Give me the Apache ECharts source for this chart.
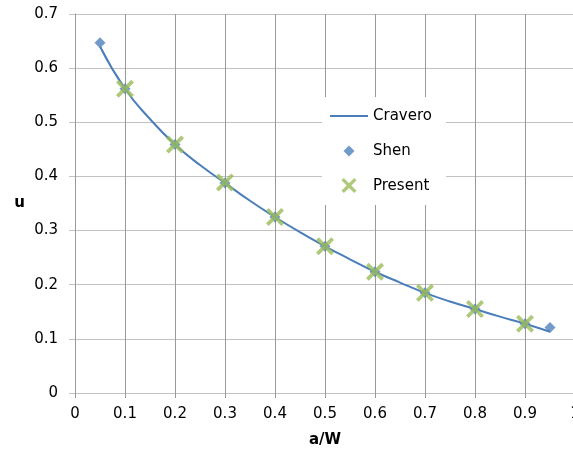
<!DOCTYPE html>
<html><head><meta charset="utf-8">
<script src="https://cdn.jsdelivr.net/npm/echarts@6/dist/echarts.min.js"></script>
<style>html,body{margin:0;padding:0;background:#fff}#c{width:573px;height:457px}</style>
</head><body><div id="c"></div>
<script>
// Data
const craveroX = [0.05,0.1,0.15,0.2,0.25,0.3,0.35,0.4,0.45,0.5,0.55,0.6,0.65,0.7,0.75,0.8,0.85,0.9,0.95];
const craveroU = [0.640,0.562,0.506,0.459,0.421,0.388,0.355,0.325,0.297,0.271,0.247,0.224,0.204,0.185,0.169,0.155,0.141,0.128,0.113];
const shenX = [0.05,0.1,0.2,0.3,0.4,0.5,0.6,0.7,0.8,0.9,0.95];
const shenU = [0.647,0.562,0.459,0.388,0.325,0.271,0.224,0.185,0.155,0.128,0.121];
const presentX = [0.1,0.2,0.3,0.4,0.5,0.6,0.7,0.8,0.9];
const presentU = [0.562,0.459,0.389,0.325,0.271,0.224,0.185,0.155,0.128];
const xTicks = [0,0.1,0.2,0.3,0.4,0.5,0.6,0.7,0.8,0.9,1];
const yTicks = [0,0.1,0.2,0.3,0.4,0.5,0.6,0.7];

const FONT = 'DejaVu Sans';
const lightGray = '#c2c2c2';
const darkGray = '#999999';
const xPath = 'path://M0,3 L3,0 L10,7 L17,0 L20,3 L13,10 L20,17 L17,20 L10,13 L3,20 L0,17 L7,10 Z';

const chart = echarts.init(document.getElementById('c'), null, {renderer:'canvas'});
chart.setOption({
  animation:false,
  backgroundColor:'#fff',
  grid:{left:75, top:14, right:-2, bottom:64, containLabel:false, outerBoundsMode:'none'},
  xAxis:{
    type:'value', min:xTicks[0], max:xTicks[xTicks.length-1], interval:0.1,
    name:'a/W', nameLocation:'middle', nameGap:40,
    nameTextStyle:{fontFamily:FONT, fontSize:15, fontWeight:'bold', color:'#000'},
    axisLine:{show:true, onZero:false, lineStyle:{color:lightGray, width:1}},
    axisTick:{show:true, inside:false, length:5, lineStyle:{color:darkGray}},
    splitLine:{show:true, lineStyle:{color:darkGray, width:1}},
    axisLabel:{fontFamily:FONT, fontSize:15, color:'#000', margin:14, showMaxLabel:true,
      formatter:v=>String(Math.round(v*10)/10)}
  },
  yAxis:{
    type:'value', min:yTicks[0], max:yTicks[yTicks.length-1], interval:0.1,
    name:'u', nameLocation:'middle', nameGap:50, nameRotate:0,
    nameTextStyle:{fontFamily:FONT, fontSize:15, fontWeight:'bold', color:'#000'},
    axisLine:{show:true, lineStyle:{color:darkGray, width:1}},
    axisTick:{show:true, inside:false, length:6, lineStyle:{color:lightGray}},
    splitLine:{show:true, lineStyle:{color:lightGray, width:1}},
    axisLabel:{fontFamily:FONT, fontSize:15, color:'#000', margin:17,
      formatter:v=>String(Math.round(v*10)/10)}
  },
  legend:{
    orient:'vertical', left:322, top:97,
    backgroundColor:'#fff', padding:[11,14,11,8],
    itemWidth:38, itemHeight:16, itemGap:19,
    textStyle:{fontFamily:FONT, fontSize:15, color:'#000'},
    data:[
      {name:'Cravero', icon:'path://M0,0 M38,16 M0,7 L38,7 L38,9 L0,9 Z'},
      {name:'Shen', icon:'path://M0,0 M38,16 M19,2.5 L24.5,8 L19,13.5 L13.5,8 Z'},
      {name:'Present', icon:'path://M0,0 M38,16 M11,1.5 L13.5,-1 L19,4.5 L24.5,-1 L27,1.5 L21.5,7 L27,12.5 L24.5,15 L19,9.5 L13.5,15 L11,12.5 L16.5,7 Z'}
    ]
  },
  series:[
    {name:'Cravero', type:'line', smooth:true, symbol:'none',
     data:craveroX.map((x,i)=>[x,craveroU[i]]),
     lineStyle:{color:'#4a7ebb', width:2}, itemStyle:{color:'#4a7ebb'}, z:2},
    {name:'Shen', type:'scatter', symbol:'diamond', symbolSize:11,
     data:shenX.map((x,i)=>[x,shenU[i]]),
     itemStyle:{color:'#4f81bd'}, z:3},
    {name:'Present', type:'scatter', symbol:xPath, symbolSize:18,
     data:presentX.map((x,i)=>[x,presentU[i]]),
     itemStyle:{color:'#9bbb59'}, z:4}
  ]
});
</script>
</body></html>
